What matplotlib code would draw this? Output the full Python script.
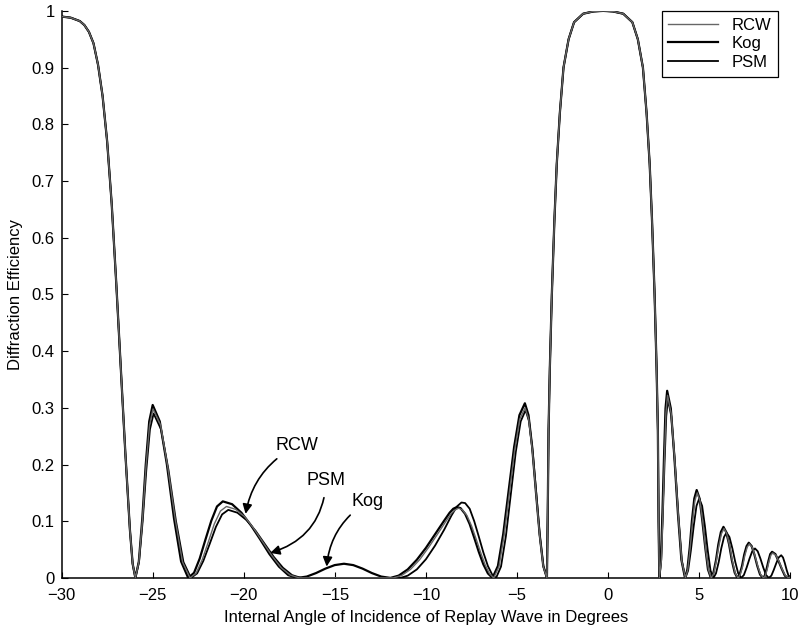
# Import libraries

import numpy as np
import matplotlib.pyplot as plt

plt.rcParams['font.family'] = ['Liberation Sans', 'DejaVu Sans']

################# Data #############################################

# shared parts: reflection band at the left edge and the main band
band_x = [-30, -29.5, -29, -28.75, -28.5, -28.25, -28, -27.75, -27.5, -27.25,
          -27, -26.75, -26.5, -26.25, -26.1, -25.95]
band_y = [0.99, 0.988, 0.982, 0.975, 0.963, 0.943, 0.905, 0.85, 0.77, 0.66,
          0.52, 0.37, 0.22, 0.085, 0.025, 0.0]

main_x = [-3.36, -3.32, -3.27, -3.2, -3.09, -2.95, -2.82, -2.65, -2.45, -2.17,
          -1.87, -1.37, -0.8, -0.27, 0.26, 0.83, 1.33, 1.63, 1.91, 2.11,
          2.28, 2.41, 2.55, 2.66, 2.73, 2.77, 2.81]
main_y = [0.0, 0.1, 0.26, 0.37, 0.5, 0.63, 0.73, 0.82, 0.9, 0.95,
          0.98, 0.995, 0.999, 1.0, 0.999, 0.995, 0.98, 0.95, 0.9, 0.82,
          0.73, 0.63, 0.5, 0.37, 0.26, 0.1, 0.0]

# Kogelnik
kog_left_x = [-25.76, -25.57, -25.38, -25.19, -25.0, -24.61, -24.22, -23.83, -23.44, -23.05,
              -22.73, -22.42, -22.1, -21.78, -21.47, -21.15, -20.64, -20.13, -19.61, -19.1,
              -18.59, -18.07, -17.56, -17.05,
              -16.54, -16.03, -15.52, -15.01, -14.5, -13.99, -13.48, -12.97, -12.46, -11.95,
              -11.5, -11.0, -10.5, -10.0, -9.5, -9.0, -8.7, -8.5, -8.3, -8.1,
              -7.85, -7.6, -7.35, -7.1, -6.85, -6.6, -6.35,
              -6.05, -5.76, -5.46, -5.16, -4.87, -4.57, -4.37, -4.17, -3.97, -3.76, -3.56, -3.36]
kog_left_y = [0.029, 0.105, 0.2, 0.276, 0.305, 0.276, 0.2, 0.105, 0.029, 0.0,
              0.009, 0.034, 0.068, 0.101, 0.126, 0.135, 0.13, 0.115, 0.093, 0.068,
              0.042, 0.02, 0.005, 0.0,
              0.0024, 0.0086, 0.0164, 0.0226, 0.025, 0.0226, 0.0164, 0.0086, 0.0024, 0.0,
              0.004, 0.015, 0.032, 0.053, 0.077, 0.101, 0.115, 0.122, 0.125, 0.123,
              0.113, 0.095, 0.071, 0.046, 0.024, 0.008, 0.0,
              0.021, 0.077, 0.154, 0.231, 0.287, 0.308, 0.287, 0.231, 0.154, 0.077, 0.021, 0.0]
kog_right_x = [2.9, 2.98, 3.07, 3.15, 3.24, 3.44, 3.63, 3.83, 4.02, 4.22,
               4.35, 4.48, 4.6, 4.73, 4.86, 5.02, 5.17, 5.33, 5.48, 5.64,
               5.78, 5.92, 6.05, 6.19, 6.33, 6.48, 6.64, 6.79, 6.95, 7.1,
               7.22, 7.35, 7.47, 7.6, 7.72, 7.88, 8.03, 8.19, 8.34, 8.5,
               8.6, 8.7, 8.8, 8.9, 9.0, 9.18, 9.35, 9.53, 9.7, 9.88, 10.0]
kog_right_y = [0.032, 0.114, 0.216, 0.299, 0.33, 0.299, 0.216, 0.114, 0.032, 0.0,
               0.015, 0.054, 0.101, 0.14, 0.155, 0.14, 0.101, 0.054, 0.015, 0.0,
               0.009, 0.031, 0.059, 0.081, 0.09, 0.081, 0.059, 0.031, 0.009, 0.0,
               0.006, 0.021, 0.041, 0.056, 0.062, 0.056, 0.041, 0.021, 0.006, 0.0,
               0.004, 0.016, 0.03, 0.042, 0.046, 0.042, 0.03, 0.016, 0.004, 0.0, 0.003]

# RCW
rcw_left_x = [-25.76, -25.56, -25.37, -25.17, -24.98, -24.57, -24.17, -23.76, -23.36, -22.95,
              -22.62, -22.28, -21.95, -21.62, -21.28, -20.95, -20.45, -19.95, -19.45, -18.95,
              -18.45, -17.95, -17.45, -16.95,
              -11.8,
              -11.35, -10.85, -10.35, -9.85, -9.35, -8.9, -8.6, -8.4, -8.2, -8.0,
              -7.75, -7.5, -7.25, -7.0, -6.75, -6.5, -6.28,
              -5.99, -5.71, -5.42, -5.13, -4.85, -4.56, -4.36, -4.16, -3.96, -3.76, -3.56, -3.36]
rcw_left_y = [0.028, 0.103, 0.195, 0.27, 0.298, 0.27, 0.195, 0.103, 0.028, 0.0,
              0.008, 0.032, 0.063, 0.095, 0.118, 0.126, 0.121, 0.108, 0.087, 0.063,
              0.039, 0.018, 0.005, 0.0,
              0.0,
              0.004, 0.015, 0.032, 0.054, 0.078, 0.1, 0.114, 0.12, 0.123, 0.12,
              0.11, 0.092, 0.069, 0.045, 0.023, 0.007, 0.0,
              0.02, 0.075, 0.15, 0.225, 0.28, 0.3, 0.28, 0.225, 0.15, 0.075, 0.02, 0.0]
rcw_right_x = [2.92, 3.0, 3.09, 3.17, 3.26, 3.46, 3.65, 3.85, 4.04, 4.24,
               4.37, 4.5, 4.63, 4.76, 4.89, 5.04, 5.2, 5.35, 5.51, 5.66,
               5.8, 5.94, 6.08, 6.22, 6.36, 6.51, 6.67, 6.82, 6.98, 7.13,
               7.25, 7.38, 7.5, 7.63, 7.75, 7.91, 8.06, 8.22, 8.37, 8.53,
               8.63, 8.73, 8.83, 8.93, 9.03, 9.21, 9.38, 9.56, 9.73, 9.91, 10.0]
rcw_right_y = [0.03, 0.11, 0.21, 0.29, 0.322, 0.29, 0.21, 0.11, 0.03, 0.0,
               0.014, 0.052, 0.098, 0.136, 0.15, 0.136, 0.098, 0.052, 0.014, 0.0,
               0.008, 0.03, 0.057, 0.078, 0.087, 0.078, 0.057, 0.03, 0.008, 0.0,
               0.006, 0.02, 0.039, 0.054, 0.06, 0.054, 0.039, 0.02, 0.006, 0.0,
               0.004, 0.015, 0.029, 0.04, 0.044, 0.04, 0.029, 0.015, 0.004, 0.0, 0.002]

# PSM
psm_left_x = [-25.75, -25.55, -25.35, -25.15, -24.95, -24.54, -24.13, -23.72, -23.31, -22.9,
              -22.56, -22.22, -21.87, -21.53, -21.19, -20.85, -20.35, -19.85, -19.35, -18.85,
              -18.35, -17.85, -17.35, -16.85,
              -11.4,
              -11.0, -10.5, -10.0, -9.5, -9.0, -8.6, -8.3, -8.05, -7.85, -7.6,
              -7.35, -7.1, -6.85, -6.6, -6.35, -6.15,
              -5.88, -5.61, -5.34, -5.07, -4.8, -4.53, -4.34, -4.14, -3.94, -3.75, -3.55, -3.36]
psm_left_y = [0.028, 0.1, 0.19, 0.262, 0.29, 0.262, 0.19, 0.1, 0.028, 0.0,
              0.008, 0.03, 0.06, 0.09, 0.112, 0.12, 0.115, 0.102, 0.083, 0.06,
              0.037, 0.018, 0.005, 0.0,
              0.0,
              0.004, 0.015, 0.033, 0.057, 0.085, 0.11, 0.126, 0.133, 0.132, 0.122,
              0.1, 0.073, 0.045, 0.021, 0.005, 0.0,
              0.02, 0.074, 0.148, 0.222, 0.276, 0.296, 0.276, 0.222, 0.148, 0.074, 0.02, 0.0]
psm_right_x = [2.91, 3.0, 3.1, 3.19, 3.28, 3.47, 3.66, 3.86, 4.05, 4.24,
               4.39, 4.54, 4.7, 4.85, 5.0, 5.16, 5.31, 5.47, 5.62, 5.78,
               5.92, 6.07, 6.21, 6.36, 6.5, 6.66, 6.82, 6.98, 7.14, 7.3,
               7.45, 7.6, 7.76, 7.91, 8.06, 8.21, 8.36, 8.52, 8.67, 8.82,
               8.96, 9.09, 9.23, 9.36, 9.5, 9.6, 9.7, 9.8, 9.9, 10.0]
psm_right_y = [0.03, 0.109, 0.206, 0.285, 0.315, 0.285, 0.206, 0.109, 0.03, 0.0,
               0.013, 0.048, 0.092, 0.127, 0.14, 0.127, 0.092, 0.048, 0.013, 0.0,
               0.008, 0.028, 0.052, 0.072, 0.08, 0.072, 0.052, 0.028, 0.008, 0.0,
               0.005, 0.018, 0.034, 0.047, 0.052, 0.047, 0.034, 0.018, 0.005, 0.0,
               0.004, 0.014, 0.026, 0.036, 0.04, 0.036, 0.026, 0.014, 0.004, 0.0]

x_ticks = [-30, -25, -20, -15, -10, -5, 0, 5, 10]
y_ticks = [0, 0.1, 0.2, 0.3, 0.4, 0.5, 0.6, 0.7, 0.8, 0.9, 1]
y_labels = ["0", "0.1", "0.2", "0.3", "0.4", "0.5", "0.6", "0.7", "0.8", "0.9", "1"]

################# Plot ######################################

fig = plt.figure(figsize=(8.03, 6.4), dpi=100)
ax = fig.add_axes([0.0767, 0.097, 0.9075, 0.886])

rcw_x = band_x + rcw_left_x + main_x + rcw_right_x
rcw_y = band_y + rcw_left_y + main_y + rcw_right_y
kog_x = band_x + kog_left_x + main_x + kog_right_x
kog_y = band_y + kog_left_y + main_y + kog_right_y
psm_x = band_x + psm_left_x + main_x + psm_right_x
psm_y = band_y + psm_left_y + main_y + psm_right_y

ax.plot(rcw_x, rcw_y, color="#666666", lw=1.0, label="RCW", zorder=3)
ax.plot(kog_x, kog_y, color="black", lw=1.6, label="Kog", zorder=2)
ax.plot(psm_x, psm_y, color="black", lw=1.3, label="PSM", zorder=2)

ax.set_xlim(-30, 10)
ax.set_ylim(0, 1)
ax.set_xticks(x_ticks)
ax.set_yticks(y_ticks)
ax.set_yticklabels(y_labels)
ax.tick_params(direction="in", length=4, labelsize=12, width=0.8)
ax.tick_params(axis="x", pad=7)
ax.tick_params(axis="y", pad=5)
for s in ["top", "right"]:
    ax.spines[s].set_visible(False)
for s in ["left", "bottom"]:
    ax.spines[s].set_linewidth(1.1)

ax.set_xlabel("Internal Angle of Incidence of Replay Wave in Degrees", fontsize=12, labelpad=5)
ax.set_ylabel("Diffraction Efficiency", fontsize=12, labelpad=6)

leg = ax.legend(loc="upper right", bbox_to_anchor=(0.983, 1.0), borderaxespad=0,
                fontsize=12, handlelength=3.0, labelspacing=0.22, fancybox=False,
                edgecolor="black", framealpha=1)
leg.get_frame().set_linewidth(0.9)

# Annotations
arrow = dict(arrowstyle="-|>", color="black", lw=1.2, mutation_scale=14)
ax.annotate("RCW", xy=(-19.9, 0.113), xytext=(-18.25, 0.233), fontsize=13,
            va="center", ha="left",
            arrowprops=dict(arrow, connectionstyle="arc3,rad=0.25", shrinkA=2, shrinkB=0))
ax.annotate("PSM", xy=(-18.55, 0.044), xytext=(-16.55, 0.171), fontsize=13,
            va="center", ha="left",
            arrowprops=dict(arrow, connectionstyle="arc3,rad=-0.35", shrinkA=4, shrinkB=0))
ax.annotate("Kog", xy=(-15.45, 0.02), xytext=(-14.1, 0.134), fontsize=13,
            va="center", ha="left",
            arrowprops=dict(arrow, connectionstyle="arc3,rad=0.25", shrinkA=2, shrinkB=0))

plt.savefig("out.png", dpi=100)
